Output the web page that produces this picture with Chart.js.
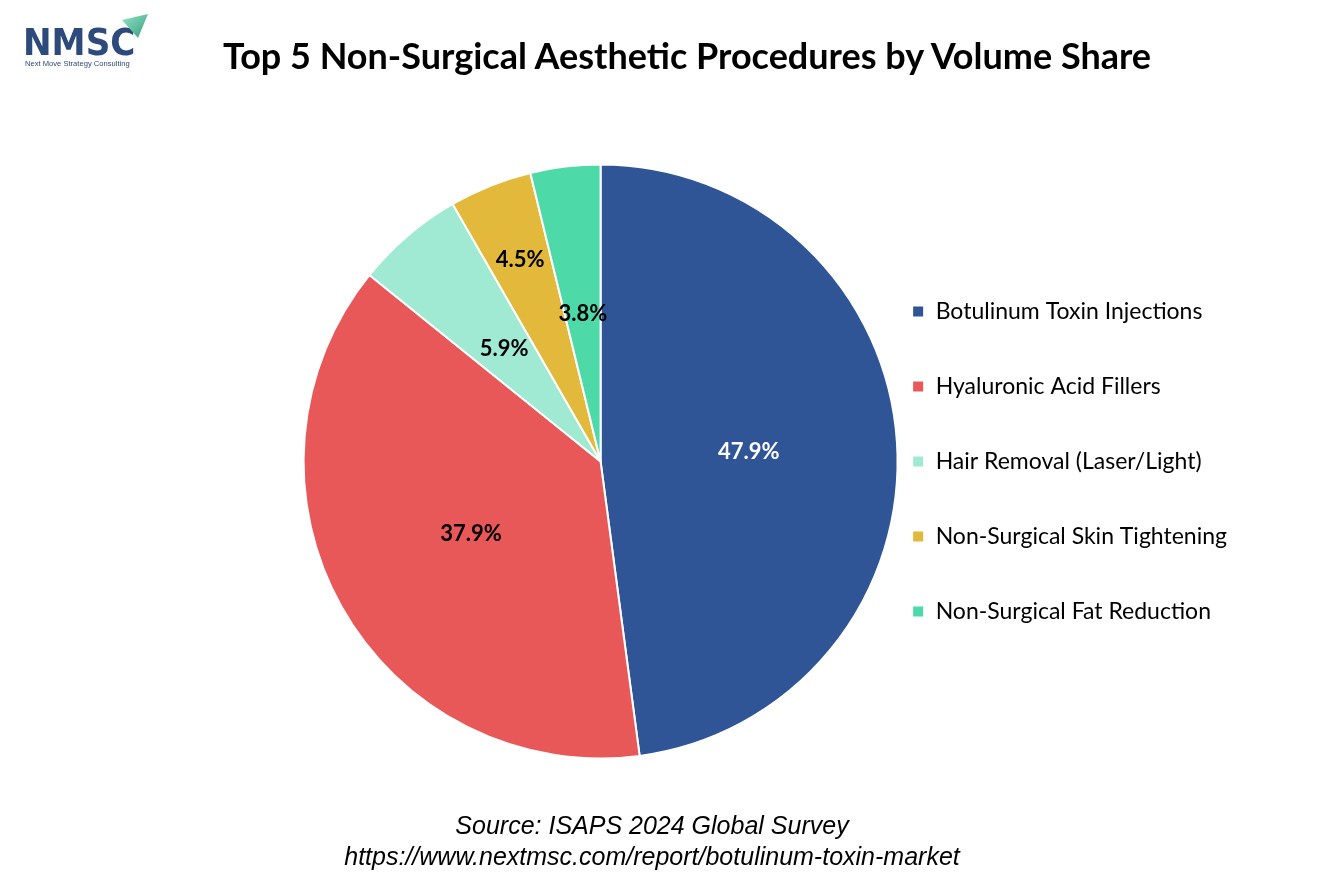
<!DOCTYPE html>
<html>
<head>
<meta charset="utf-8">
<script src="https://cdn.jsdelivr.net/npm/chart.js@4.4.1/dist/chart.umd.min.js"></script>
<style>
  html, body { margin: 0; padding: 0; background: #fff; }
  #wrap { position: relative; width: 1334px; height: 889px; overflow: hidden; }
  #chartBox { position: absolute; left: 0; top: 0; width: 1334px; height: 889px; }
  .title { position: absolute; left: 0; width: 1374px; top: 33px; text-align: center;
           font: bold 36px Lato, "Liberation Sans", sans-serif; color: #000; line-height: 44px; }
  .source { position: absolute; left: 0; width: 1304px; text-align: center;
            font: italic 25px "Liberation Sans", Arial, sans-serif; color: #000; line-height: 29px; }
  .logo { position: absolute; left: 23px; top: 22px; }
  .logo .big { font: bold 38px "DejaVu Sans Condensed", "DejaVu Sans", sans-serif; color: #2d4a7c;
               letter-spacing: 0px; line-height: 40px; }
  .logo .small { font: 7.6px "Liberation Sans", sans-serif; color: #2d4a7c; margin-top: -3px; padding-left: 2px; }
</style>
</head>
<body>
<div id="wrap">
  <div id="chartBox"><canvas id="pie"></canvas></div>
  <div class="logo">
    <div class="big">NMSC</div>
    <div class="small">Next Move Strategy Consulting</div>
  </div>
  <svg style="position:absolute;left:115px;top:10px" width="40" height="34">
    <defs>
      <linearGradient id="g" x1="0" y1="0" x2="1" y2="1">
        <stop offset="0" stop-color="#8fe6c8"/>
        <stop offset="1" stop-color="#3a9c7a"/>
      </linearGradient>
    </defs>
    <polygon points="7,10 33,4 23,28" fill="url(#g)"/>
  </svg>
  <div class="title">Top 5 Non-Surgical Aesthetic Procedures by Volume Share</div>
  <div class="source" style="top:811px">Source: ISAPS 2024 Global Survey</div>
  <div class="source" style="top:842px">https://www.nextmsc.com/report/botulinum-toxin-market</div>
</div>
<script>
// categories and shares (percent)
var procedures = ['Botulinum Toxin Injections', 'Hyaluronic Acid Fillers', 'Hair Removal (Laser/Light)',
                  'Non-Surgical Skin Tightening', 'Non-Surgical Fat Reduction'];
var shares = [47.9, 37.9, 5.9, 4.5, 3.8];
var sliceColors = ['#2F5597', '#E85858', '#A0E9D2', '#E2B93B', '#4DD9A8'];
var labelColors = ['#ffffff', '#000000', '#000000', '#000000', '#000000'];
var labelRadius = [0.5, 0.5, 0.5, 0.73, 0.5];

// draws the percentage inside each slice
var sliceLabels = {
    id: 'sliceLabels',
    afterDatasetsDraw: function(chart) {
        var ctx = chart.ctx;
        var meta = chart.getDatasetMeta(0);
        ctx.save();
        ctx.font = 'bold 22px Lato, "Liberation Sans", sans-serif';
        ctx.textAlign = 'center';
        ctx.textBaseline = 'middle';
        meta.data.forEach(function(arc, i) {
            var mid = (arc.startAngle + arc.endAngle) / 2;
            var r = arc.outerRadius * labelRadius[i];
            ctx.fillStyle = labelColors[i];
            ctx.fillText(shares[i].toFixed(1) + '%', arc.x + Math.cos(mid) * r, arc.y + Math.sin(mid) * r);
        });
        ctx.restore();
    }
};

var ctx = document.getElementById('pie').getContext('2d');
var pie = new Chart(ctx, {
    type: 'pie',
    data: {
        labels: procedures,
        datasets: [{
            data: shares,
            backgroundColor: sliceColors,
            borderColor: '#ffffff',
            borderWidth: 2,
            radius: 297
        }]
    },
    options: {
        responsive: true,
        maintainAspectRatio: false,
        animation: false,
        layout: { padding: { top: 163, bottom: 129, left: 341, right: 97 } },
        plugins: {
            legend: {
                position: 'right',
                labels: {
                    boxWidth: 12,
                    boxHeight: 12,
                    padding: 52,
                    color: '#000',
                    font: { size: 23, family: 'Lato, "Liberation Sans", sans-serif' }
                }
            },
            tooltip: { enabled: false }
        }
    },
    plugins: [sliceLabels]
});
</script>
</body>
</html>
